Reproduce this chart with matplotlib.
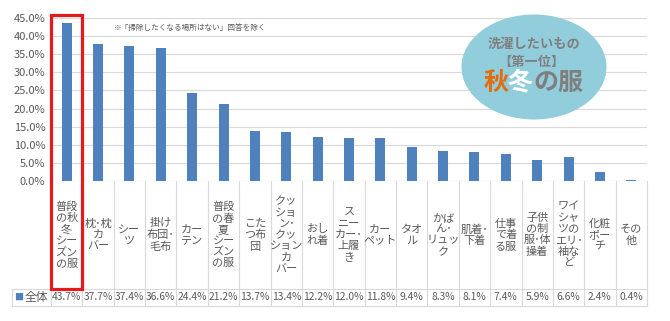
import numpy as np
import matplotlib
matplotlib.use('Agg')
import matplotlib.pyplot as plt
from matplotlib.patches import Rectangle, Ellipse
from matplotlib.transforms import blended_transform_factory

plt.rcParams['font.family'] = ['Noto Sans CJK JP', 'DejaVu Sans']

# ----- Data -----
labels = ['普段\nの秋\n冬\nシー\nズン\nの服', '枕･枕\nカ\nバー', 'シー\nツ', '掛け\n布団･\n毛布',
          'カー\nテン', '普段\nの春\n夏\nシー\nズン\nの服', 'こた\nつ布\n団',
          'クッ\nショ\nン･\nクッ\nション\nカ\nバー', 'おし\nれ着', 'ス\nニー\nカー･\n上履\nき',
          'カー\nペット', 'タオ\nル', 'かば\nん･\nリュッ\nク', '肌着･\n下着', '仕事\nで着\nる服',
          '子供\nの制\n服･体\n操着', 'ワイ\nシャ\nツの\nエリ･\n袖な\nど', '化粧\nポー\nチ', 'その\n他']
values = [43.7, 37.7, 37.4, 36.6, 24.4, 21.2, 13.7, 13.4, 12.2, 12.0,
          11.8, 9.4, 8.3, 8.1, 7.4, 5.9, 6.6, 2.4, 0.4]
yticks = [0, 5, 10, 15, 20, 25, 30, 35, 40, 45]
seriesName = '全体'

# ----- Colors -----
barColor = '#4F81BD'
gridColor = '#D9D9D9'
textColor = '#595959'

W, H = 670, 321
fig = plt.figure(figsize=(W / 100, H / 100), dpi=100)

# plot area in pixels
x0, x1 = 51, 647
yTop, yBot = 18, 181
ax = fig.add_axes([x0 / W, (H - yBot) / H, (x1 - x0) / W, (yBot - yTop) / H])

n = len(values)
x = np.arange(n)
ax.bar(x, values, width=0.32, color=barColor, zorder=3)
ax.set_xlim(-0.5, n - 0.5)
ax.set_ylim(0, 45)
ax.set_yticks(yticks)
ax.set_yticklabels(['%.1f%%' % v for v in yticks], fontsize=8, color=textColor)
ax.set_xticks([])
ax.tick_params(axis='y', length=0, pad=4)
for s in ax.spines.values():
    s.set_visible(False)
ax.grid(axis='y', color=gridColor, linewidth=0.8, zorder=0)
ax.axhline(0, color=gridColor, linewidth=0.8, zorder=2)

# ----- Table under the axis -----
axH = yBot - yTop
def fy(py):
    # pixel y -> axes fraction
    return (yBot - py) / axH

tr = blended_transform_factory(ax.transData, ax.transAxes)
labBot = 289
rowBot = 306
for i in range(n + 1):
    ax.plot([i - 0.5, i - 0.5], [0, fy(rowBot)], color=gridColor, lw=0.8,
            transform=tr, clip_on=False)
# row box lines
xl = -0.5 - (51 - 12) / ((x1 - x0) / n)
ax.plot([xl, n - 0.5], [fy(labBot), fy(labBot)], color=gridColor, lw=0.8, transform=tr, clip_on=False)
ax.plot([xl, n - 0.5], [fy(rowBot), fy(rowBot)], color=gridColor, lw=0.8, transform=tr, clip_on=False)
ax.plot([xl, xl], [fy(labBot), fy(rowBot)], color=gridColor, lw=0.8, transform=tr, clip_on=False)

for i in range(n):
    ax.text(i, fy((yBot + labBot) / 2), labels[i], transform=tr, ha='center', va='center',
            fontsize=8, color=textColor, linespacing=1.15)
    ax.text(i, fy((labBot + rowBot) / 2), '%.1f%%' % values[i], transform=tr, ha='center',
            va='center', fontsize=7.4, color=textColor)

rowY = (H - (labBot + rowBot) / 2) / H
fig.text(19 / W, rowY, '■', ha='center', va='center', fontsize=6.5, color=barColor)
fig.text(25 / W, rowY, seriesName, ha='left', va='center', fontsize=8.5, color=textColor)

# red highlight box
ax.add_patch(Rectangle((-0.5, fy(289)), 1.0, fy(15) - fy(289), transform=tr, fill=False,
                       edgecolor='#E41A1C', lw=2.3, clip_on=False, zorder=5))

# note
fig.text(190 / W, (H - 28) / H, '※「掃除したくなる場所はない」回答を除く',
         ha='center', va='center', fontsize=5.5, color=textColor)

# ----- Bubble -----
fig.patches.append(Ellipse((534 / W, (H - 67) / H), 145 / W, 105 / H, transform=fig.transFigure,
                           facecolor='#92CDDC', edgecolor='none', zorder=6))
fig.text(534 / W, (H - 44) / H, '洗濯したいもの', ha='center', va='center', fontsize=9.5,
         color='#7F7F7F', fontweight='bold', zorder=7)
fig.text(531 / W, (H - 62) / H, '【第一位】', ha='center', va='center', fontsize=9.5,
         color='#7F7F7F', fontweight='bold', zorder=7)
fig.text(496 / W, (H - 83) / H, '秋', ha='center', va='center', fontsize=18,
         color='#E46C0A', fontweight='bold', zorder=7)
fig.text(520 / W, (H - 83) / H, '冬', ha='center', va='center', fontsize=18,
         color='white', fontweight='bold', zorder=7)
fig.text(558 / W, (H - 83) / H, 'の服', ha='center', va='center', fontsize=18,
         color='#7F7F7F', fontweight='bold', zorder=7)

fig.savefig('out.png', dpi=100)
